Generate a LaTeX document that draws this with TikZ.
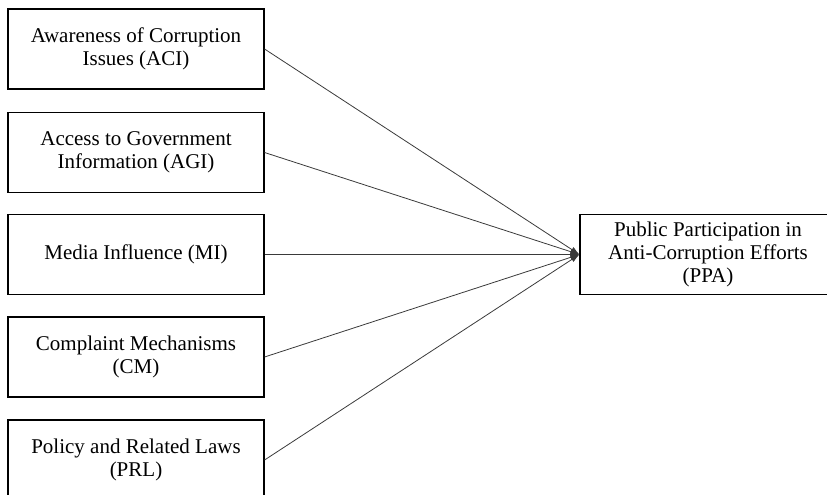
\documentclass[tikz,border=0pt]{standalone}
\usepackage{fontspec}
\setmainfont{Liberation Serif}
\usetikzlibrary{arrows.meta}
\newcommand{\boxwidth}{256pt}
\newcommand{\boxheight}{80pt}
\definecolor{framecolor}{HTML}{000000}
\definecolor{linkcolor}{HTML}{3A3A3A}
\tikzset{
  factor/.style={draw=framecolor, line width=1.1pt, minimum width=\boxwidth,
    minimum height=\boxheight, inner sep=0pt, align=center,
    font=\fontsize{21}{23}\selectfont},
  link/.style={draw=linkcolor, line width=0.8pt, -{Latex[length=9pt,width=6pt]}}
}
\begin{document}
\begin{tikzpicture}
  \useasboundingbox (0pt,0pt) rectangle (827pt,-495pt);
  \clip (0pt,0pt) rectangle (827pt,-495pt);

  % === INDEPENDENT FACTORS ===
  \node[factor] (aci) at (136pt, -49pt) {Awareness of Corruption\\Issues (ACI)};
  \node[factor] (agi) at (136pt, -152.5pt) {Access to Government\\Information (AGI)};
  \node[factor] (mi) at (136pt, -254.5pt) {Media Influence (MI)};
  \node[factor] (cm) at (136pt, -357pt) {Complaint Mechanisms\\(CM)};
  \node[factor] (prl) at (136pt, -460pt) {Policy and Related Laws\\(PRL)};

  % === OUTCOME ===
  \node[factor] (ppa) at (708pt, -254.5pt) {Public Participation in\\Anti-Corruption Efforts\\(PPA)};

  % === LINKS ===
  \foreach \src in {aci,agi,mi,cm,prl} {
    \draw[link] (\src.east) -- (ppa.west);
  }
\end{tikzpicture}
\end{document}
